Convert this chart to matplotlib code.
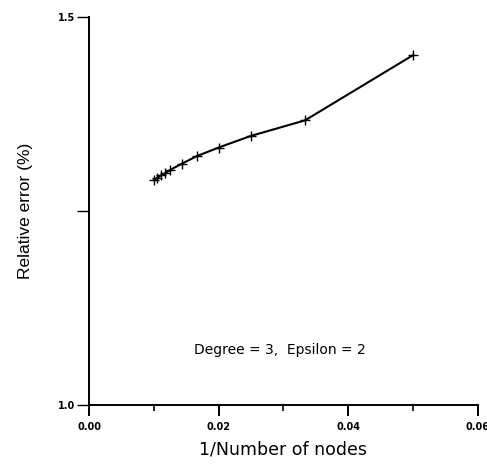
import matplotlib
matplotlib.use("Agg")
import matplotlib.pyplot as plt

nodes = [20, 30, 40, 50, 60, 70, 80, 85, 90, 95, 100]
inv_nodes = [1.0 / n for n in nodes]
rel_error = [1.451, 1.367, 1.347, 1.332, 1.321, 1.311, 1.303, 1.299, 1.296, 1.293, 1.290]

x_ticks = [0.00, 0.02, 0.04, 0.06]
x_tick_labels = ["0.00", "0.02", "0.04", "0.06"]
y_ticks = [1.0, 1.25, 1.5]
y_tick_labels = ["1.0", "", "1.5"]

fig = plt.figure(figsize=(4.87, 4.65), dpi=100)
ax = fig.add_axes([0.183, 0.129, 0.798, 0.834])
ax.plot(inv_nodes, rel_error, color="black", lw=1.5, marker="+", ms=6.5, mew=1.0)

ax.set_xlim(0.0, 0.06)
ax.set_ylim(1.0, 1.5)
for s in ["top", "right"]:
    ax.spines[s].set_visible(False)
for s in ["left", "bottom"]:
    ax.spines[s].set_linewidth(1.4)

ax.set_xticks(x_ticks)
ax.set_xticklabels(x_tick_labels, fontsize=7, fontweight="bold", family="DejaVu Sans")
ax.set_xticks([0.01, 0.03, 0.05], minor=True)
ax.tick_params(axis="x", which="major", direction="out", length=8, width=1.4, pad=4)
ax.tick_params(axis="x", which="minor", direction="out", length=4, width=1.2)

ax.set_yticks(y_ticks)
ax.set_yticklabels(y_tick_labels, fontsize=7, fontweight="bold", family="DejaVu Sans")
ax.tick_params(axis="y", which="major", direction="out", length=9, width=1.0, pad=1)

ax.set_xlabel("1/Number of nodes", fontsize=12.5, family="DejaVu Sans", labelpad=6)
ax.set_ylabel("Relative error (%)", fontsize=12.5, family="Liberation Sans", labelpad=18)

ax.text(0.0295, 1.071, "Degree = 3,  Epsilon = 2", ha="center", va="center",
        fontsize=10, family="DejaVu Sans")

fig.savefig("out.png", dpi=100)
